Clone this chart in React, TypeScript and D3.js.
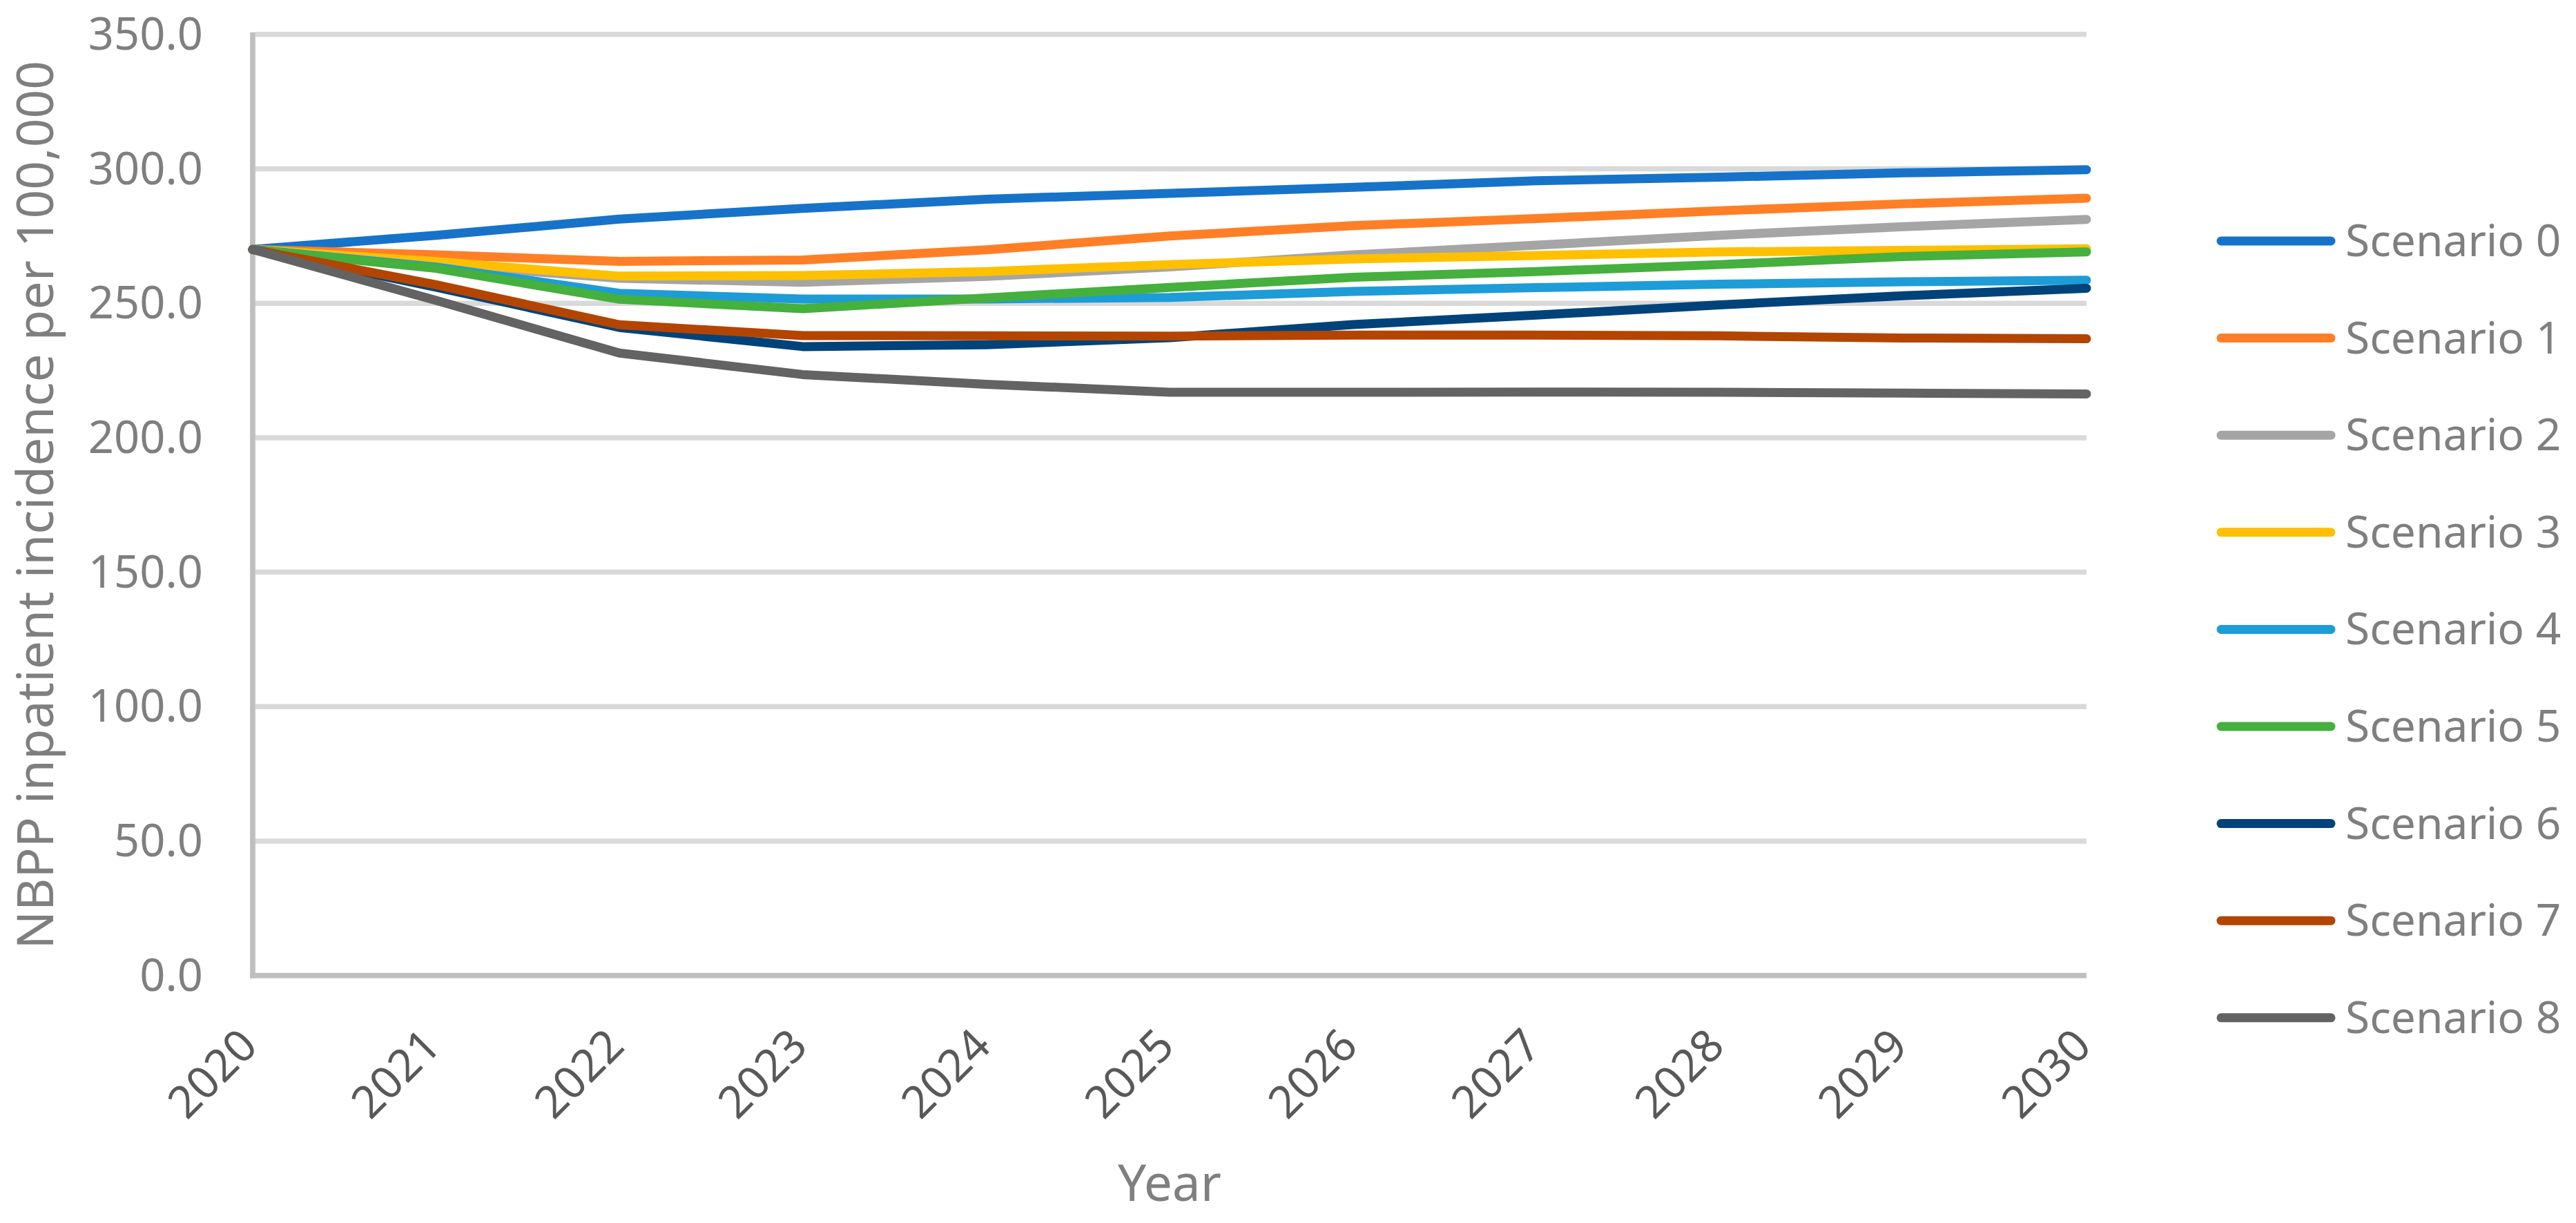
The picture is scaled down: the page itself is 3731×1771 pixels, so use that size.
import { line, scaleLinear } from "d3";
import { useEffect } from "react";

const years = [2020, 2021, 2022, 2023, 2024, 2025, 2026, 2027, 2028, 2029, 2030];

const scenarioNames = [
  "Scenario 0",
  "Scenario 1",
  "Scenario 2",
  "Scenario 3",
  "Scenario 4",
  "Scenario 5",
  "Scenario 6",
  "Scenario 7",
  "Scenario 8",
];

const s0 = [270, 275.3, 281.3, 285.3, 288.7, 290.9, 293.1, 295.6, 296.9, 298.5, 299.7];
const s1 = [270, 268, 265.6, 266.1, 269.9, 275.0, 278.9, 281.5, 284.4, 287.0, 289.1];
const s2 = [270, 264.5, 259.3, 257.8, 260, 263.5, 268, 271.6, 275.3, 278.5, 281.2];
const s3 = [270, 265.5, 260.1, 260.3, 261.8, 264.4, 266.5, 267.8, 269.1, 269.7, 270.3];
const s4 = [270, 263.5, 253.7, 251.6, 251.6, 252.2, 254.4, 255.8, 257.1, 258, 258.6];
const s5 = [270, 263, 251.5, 248, 252, 255.9, 259.7, 261.8, 264.4, 267.4, 269.1];
const s6 = [270, 256, 241, 233.9, 234.6, 237.2, 242.1, 245.6, 249.4, 252.8, 255.6];
const s7 = [270, 256.9, 242, 238, 237.9, 237.8, 238.2, 238.2, 237.9, 237.1, 236.8];
const s8 = [270, 251.1, 231.5, 223.5, 219.9, 216.9, 216.9, 217.0, 216.9, 216.6, 216.3];

const seriesValues = [s0, s1, s2, s3, s4, s5, s6, s7, s8];

const colors = [
  "#1773c9",
  "#ff7f27",
  "#a5a5a5",
  "#ffc000",
  "#1e9cd8",
  "#45b03d",
  "#00437a",
  "#b34500",
  "#636363",
];

const yTicks = [0, 50, 100, 150, 200, 250, 300, 350];

const W = 3731;
const H = 1771;
const font = "'Noto Sans', 'Open Sans', sans-serif";

const x = scaleLinear().domain([2020, 2030]).range([366, 3022]);
const y = scaleLinear().domain([0, 350]).range([1412.7, 49.8]);

const path = line<number>()
  .x((_, i) => x(years[i]))
  .y((d) => y(d));

export default function App() {
  useEffect(() => {
    document.body.style.margin = "0";
  }, []);

  return (
    <svg width={W} height={H} style={{ display: "block", background: "#fff" }}>
      {/* gridlines */}
      {yTicks
        .filter((t) => t > 0)
        .map((t) => (
          <line key={t} x1={370} x2={x(2030)} y1={y(t)} y2={y(t)} stroke="#d9d9d9" strokeWidth={7.5} />
        ))}
      {/* axes */}
      <line x1={x(2020)} x2={x(2020)} y1={y(350) - 3} y2={y(0) + 3.8} stroke="#bfbfbf" strokeWidth={7.7} />
      <line x1={x(2020) - 3.8} x2={x(2030)} y1={y(0)} y2={y(0)} stroke="#bfbfbf" strokeWidth={7.7} />

      {/* y tick labels */}
      {yTicks.map((t) => (
        <text
          key={t}
          x={294}
          y={y(t) + 22}
          textAnchor="end"
          fontFamily={font}
          fontSize={65}
          fill="#7f7f7f"
        >
          {t.toFixed(1)}
        </text>
      ))}

      {/* x tick labels */}
      {years.map((yr) => (
        <text
          key={yr}
          transform={`translate(${x(yr) + 10}, 1518) rotate(-45)`}
          textAnchor="end"
          fontFamily={font}
          fontSize={65}
          fill="#595959"
        >
          {yr}
        </text>
      ))}

      {/* axis titles */}
      <text
        transform={`translate(77, ${(y(0) + y(350)) / 2}) rotate(-90)`}
        textAnchor="middle"
        fontFamily={font}
        fontSize={73}
        fill="#7f7f7f"
      >
        NBPP inpatient incidence per 100,000
      </text>
      <text
        x={(x(2020) + x(2030)) / 2}
        y={1739}
        textAnchor="middle"
        fontFamily={font}
        fontSize={73}
        fill="#7f7f7f"
      >
        Year
      </text>

      {/* series */}
      {seriesValues.map((vals, i) => (
        <path
          key={i}
          d={path(vals) ?? ""}
          fill="none"
          stroke={colors[i]}
          strokeWidth={13}
          strokeLinecap="round"
          strokeLinejoin="round"
        />
      ))}

      {/* legend */}
      {scenarioNames.map((name, i) => {
        const cy = 349 + i * 140.6;
        return (
          <g key={name}>
            <line x1={3217} x2={3376} y1={cy} y2={cy} stroke={colors[i]} strokeWidth={13} strokeLinecap="round" />
            <text x={3397} y={cy + 22} fontFamily={font} fontSize={64} fill="#7f7f7f">
              {name}
            </text>
          </g>
        );
      })}
    </svg>
  );
}
